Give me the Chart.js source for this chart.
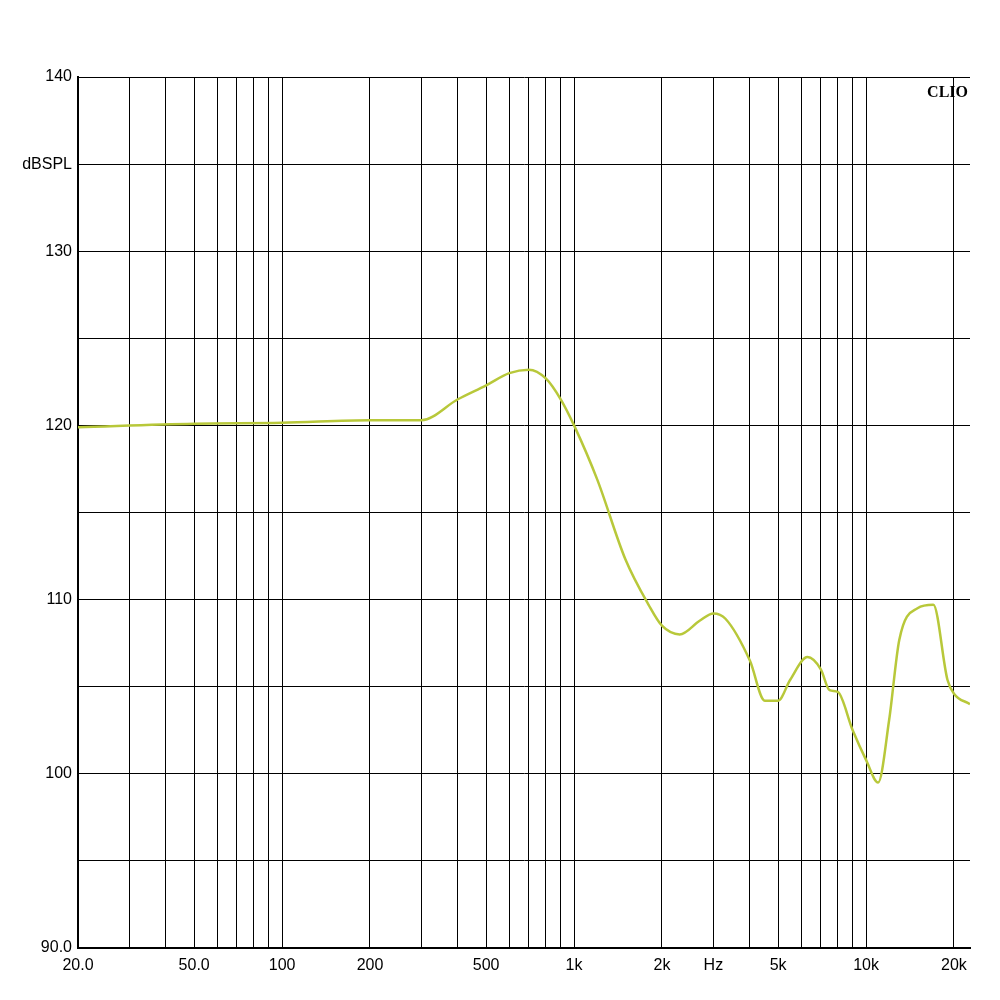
<!DOCTYPE html>
<html><head><meta charset="utf-8">
<script src="https://cdn.jsdelivr.net/npm/chart.js@4/dist/chart.umd.min.js"></script>
<style>html,body{margin:0;padding:0;background:#fff}#w{width:1000px;height:1000px}</style>
</head><body><div id="w"><canvas id="c"></canvas></div>
<script>
const freqs=[20,50,100,200,300,400,500,600,700,800,900,1000,1200,1500,1800,2000,2300,2700,3000,3300,4000,4500,5000,5500,6300,7000,7500,8000,9000,10000,11000,12000,13000,15000,17000,19000,20000,22700];
const spl=[119.9,120.1,120.15,120.3,120.3,121.5,122.3,123.0,123.2,122.7,121.5,120.0,116.9,112.3,109.7,108.5,108.0,108.8,109.2,108.9,106.5,104.2,104.2,105.4,106.7,106.0,104.8,104.7,102.5,100.8,99.5,103.1,107.7,109.5,109.7,105.4,104.6,104.0];
const xGrid=[20,30,40,50,60,70,80,90,100,200,300,400,500,600,700,800,900,1000,2000,3000,4000,5000,6000,7000,8000,9000,10000,20000];
const xLabels={20:"20.0",50:"50.0",100:"100",200:"200",500:"500",1000:"1k",2000:"2k",3000:"Hz",5000:"5k",10000:"10k",20000:"20k"};
const yLabels={140:"140",135:"dBSPL",130:"130",120:"120",110:"110",100:"100",90:"90.0"};
const font={family:"Liberation Sans, Arial",size:16};
new Chart(document.getElementById('c'),{
 type:'line',
 data:{datasets:[{data:freqs.map((f,i)=>({x:f,y:spl[i]})),borderColor:'#b8c83a',borderWidth:2.5,pointRadius:0,cubicInterpolationMode:'monotone'}]},
 options:{responsive:true,maintainAspectRatio:false,animation:false,
  layout:{padding:{top:77,right:30,left:0,bottom:0}},
  plugins:{legend:{display:false},tooltip:{enabled:false}},
  scales:{
   x:{type:'logarithmic',min:20,max:22700,
    afterBuildTicks:a=>{a.ticks=xGrid.map(v=>({value:v}));},
    afterFit:a=>{a.height=52;},
    grid:{color:'#000',lineWidth:1,drawTicks:false},border:{color:'#000',width:2},
    ticks:{autoSkip:false,maxRotation:0,color:'#000',font,padding:8,callback:v=>xLabels[v]||''}},
   y:{min:90,max:140,
    afterBuildTicks:a=>{a.ticks=[90,95,100,105,110,115,120,125,130,135,140].map(v=>({value:v}));},
    afterFit:a=>{a.width=78;},
    grid:{color:'#000',lineWidth:1,drawTicks:false},border:{color:'#000',width:2},
    ticks:{color:'#000',font,padding:6,callback:v=>yLabels[v]||''}}
  }},
 plugins:[{id:'clio',afterDraw(c){const x=c.ctx;x.save();x.font='bold 16px "Liberation Serif"';x.fillStyle='#000';x.textAlign='right';x.fillText('CLIO',968,97);x.restore();}}]
});
</script></body></html>
